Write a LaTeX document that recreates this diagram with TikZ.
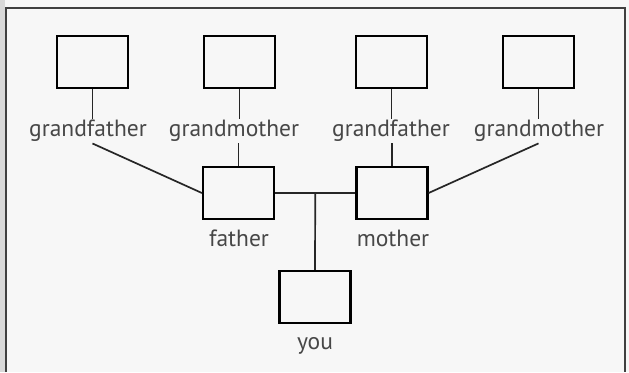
\documentclass[tikz,border=0pt]{standalone}
\usepackage{fontspec}
\setmainfont{PT Sans}
\usepackage{xcolor}
\usetikzlibrary{calc}

\begin{document}
\begin{tikzpicture}[x=1pt, y=-1pt]
  \tikzstyle{personbox} = [draw, line width=2.2pt, minimum width=71pt,
    minimum height=52pt, inner sep=0pt]
  \tikzstyle{relation} = [font=\fontsize{23.5}{27}\selectfont, text=black!72,
    inner sep=1.5pt]
  \tikzstyle{link} = [line width=1.7pt, black!85]

  % page and frame
  \fill[black!3] (0,0) rectangle (629,372);
  \fill[black!15] (0,0) rectangle (5,372);
  \draw[line width=1.8pt, black!75] (6,372) -- (6,8) -- (625,8) -- (625,372);
  \useasboundingbox (0,0) rectangle (629,372);

  % grandparents
  \node[personbox] (gf1) at (92.5,62) {};
  \node[personbox] (gm1) at (239.5,62) {};
  \node[personbox] (gf2) at (391.5,62) {};
  \node[personbox] (gm2) at (538.5,62) {};
  \node[relation] (lgf1) at (88,131) {grandfather};
  \node[relation] (lgm1) at (234,131) {grandmother};
  \node[relation] (lgf2) at (391,131) {grandfather};
  \node[relation] (lgm2) at (539,131) {grandmother};

  % parents and you
  \node[personbox] (father) at (238.5,193) {};
  \node[personbox] (mother) at (392,193) {};
  \node[personbox] (you) at (315,297) {};
  \node[relation] (lfather) at (239,238) {father};
  \node[relation] (lmother) at (393,238) {mother};
  \node[relation] (lyou) at (315,346) {you};
  \coordinate (mid) at ($(father.east)!0.5!(mother.west)$);

  \draw[link] (gf1.south) -- (gf1.south |- lgf1.north);
  \draw[link] (gm1.south) -- (gm1.south |- lgm1.north);
  \draw[link] (gf2.south) -- (gf2.south |- lgf2.north);
  \draw[link] (gm2.south) -- (gm2.south |- lgm2.north);
  \draw[link] (father.north |- lgm1.south) -- (father.north);
  \draw[link] (mother.north |- lgf2.south) -- (mother.north);
  \draw[link] (gf1.south |- lgf1.south) -- (father.west);
  \draw[link] (gm2.south |- lgm2.south) -- (mother.east);
  \draw[link] (father.east) -- (mother.west);
  \draw[link] (mid) -- (you.north);
\end{tikzpicture}
\end{document}
